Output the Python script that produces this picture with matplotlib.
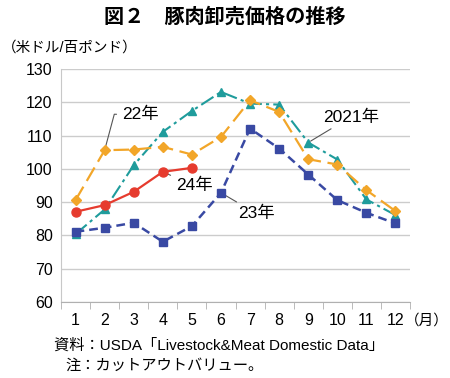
import matplotlib
matplotlib.use("Agg")
import matplotlib.pyplot as plt

plt.rcParams['font.family'] = ['Liberation Sans', 'Noto Sans CJK JP', 'DejaVu Sans']

months = list(range(1, 13))
y2021 = [80.4, 87.8, 101.1, 111.1, 117.4, 123.1, 119.6, 119.3, 107.9, 102.8, 90.8, 86.1]
y2022 = [90.6, 105.6, 105.8, 106.6, 104.3, 109.6, 120.6, 117.1, 102.9, 101.3, 93.6, 87.3]
y2023 = [81.1, 82.3, 83.8, 78.1, 82.8, 92.8, 112.1, 106.1, 98.3, 90.6, 86.8, 83.6]
y2024 = [87.1, 89.1, 93.1, 99.1, 100.3]

fig = plt.figure(figsize=(4.5, 3.78), dpi=100)
ax = fig.add_axes([0.1356, 0.2011, 0.7756, 0.6164])

ax.plot(months, y2021, color='#1f9c9c', ls=(0, (7, 2, 1.5, 2)), lw=1.5,
        marker='^', ms=6, zorder=3)
ax.plot(months, y2022, color='#f2a629', ls=(0, (7, 3)), lw=1.6,
        marker='D', ms=5, zorder=4)
ax.plot(months, y2023, color='#3949a3', ls=(0, (3.5, 2)), lw=1.8,
        marker='s', ms=6, zorder=5)
ax.plot(months[:len(y2024)], y2024, color='#e63b2e', ls='-', lw=1.6,
        marker='o', ms=6.5, zorder=6)

ax.set_xlim(0.5, 12.5)
ax.set_ylim(60, 130)
ax.set_yticks(range(60, 131, 10))
ax.set_xticks(months)
ax.set_xticks([m + 0.5 for m in range(0, 13)], minor=True)
ax.tick_params(axis='x', which='major', length=0, pad=8, labelsize=11.5)
ax.tick_params(axis='x', which='minor', length=5, color='#b0b0b0')
ax.tick_params(axis='y', length=0, pad=6, labelsize=11.5)
ax.grid(axis='y', color='#cccccc', lw=1)
ax.set_axisbelow(True)
for s in ['top', 'right']:
    ax.spines[s].set_visible(False)
ax.spines['left'].set_color('#c8c8c8')
ax.spines['bottom'].set_color('#b0b0b0')

# labels with leader lines
lc = '#555555'
ax.annotate('22年', xy=(2, 105.6), xytext=(2.6, 116.4), fontsize=12.5,
            va='center', arrowprops=dict(arrowstyle='-', color=lc, lw=0.8,
                                         connectionstyle='angle,angleA=0,angleB=75,rad=0'))
ax.annotate('24年', xy=(4, 99.1), xytext=(4.45, 94.9), fontsize=12.5,
            va='center', arrowprops=dict(arrowstyle='-', color=lc, lw=0.8))
ax.annotate('23年', xy=(6, 92.8), xytext=(6.6, 86.5), fontsize=12.5,
            va='center', arrowprops=dict(arrowstyle='-', color=lc, lw=0.8))
ax.annotate('2021年', xy=(9, 107.9), xytext=(9.5, 115.6), fontsize=12.5,
            va='center', arrowprops=dict(arrowstyle='-', color=lc, lw=0.8))

fig.text(0.5, 0.955, '図２　豚肉卸売価格の推移', ha='center', va='center',
         fontsize=14.5, fontweight='bold')
fig.text(0.005, 0.875, '（米ドル/百ポンド）', ha='left', va='center', fontsize=10.5)
fig.text(0.997, 0.152, '（月）', ha='right', va='center', fontsize=10.5)
fig.text(0.12, 0.085, '資料：USDA「Livestock&Meat Domestic Data」', ha='left',
         va='center', fontsize=11)
fig.text(0.145, 0.032, '注：カットアウトバリュー。', ha='left', va='center', fontsize=11)

fig.savefig('out.png', dpi=100)
